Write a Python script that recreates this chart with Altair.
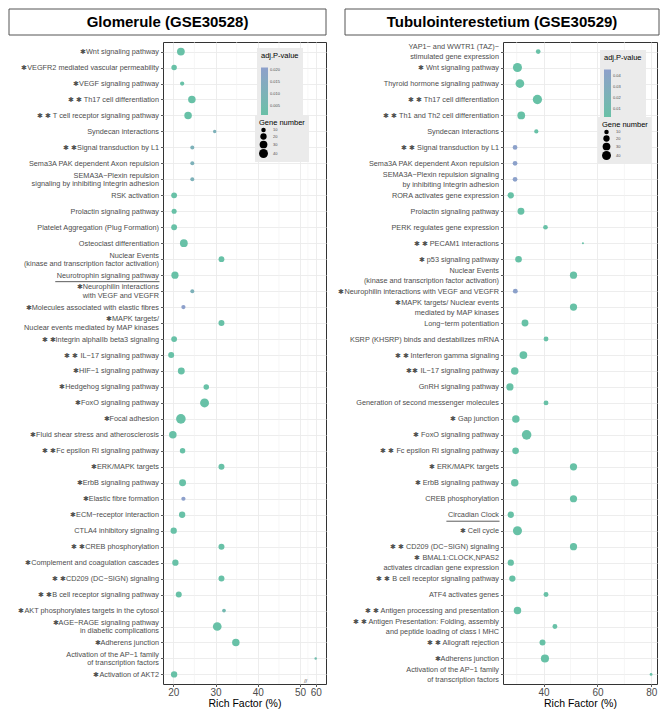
import altair as alt
import pandas as pd

# ---------------- data ----------------
panel_titles = ["Glomerule (GSE30528)", "Tubulointerestetium (GSE30529)"]
x_title = "Rich Factor (%)"

left_terms = [
    "✱Wnt signaling pathway",
    "✱VEGFR2 mediated vascular permeability",
    "✱VEGF signaling pathway",
    "✱ ✱ Th17 cell differentiation",
    "✱ ✱ T cell receptor signaling pathway",
    "Syndecan interactions",
    "✱ ✱Signal transduction by L1",
    "Sema3A PAK dependent Axon repulsion",
    "SEMA3A−Plexin repulsion|signaling by inhibiting Integrin adhesion",
    "RSK activation",
    "Prolactin signaling pathway",
    "Platelet Aggregation (Plug Formation)",
    "Osteoclast differentiation",
    "Nuclear Events|(kinase and transcription factor activation)",
    "Neurotrophin signaling pathway",
    "✱Neurophilin interactions|with VEGF and VEGFR",
    "✱Molecules associated with elastic fibres",
    "✱MAPK targets/|Nuclear events mediated by MAP kinases",
    "✱ ✱Integrin alphaIIb beta3 signaling",
    "✱ ✱ IL−17 signaling pathway",
    "✱HIF−1 signaling pathway",
    "✱Hedgehog signaling pathway",
    "✱FoxO signaling pathway",
    "✱Focal adhesion",
    "✱Fluid shear stress and atherosclerosis",
    "✱ ✱Fc epsilon RI signaling pathway",
    "✱ERK/MAPK targets",
    "✱ErbB signaling pathway",
    "✱Elastic fibre formation",
    "✱ECM−receptor interaction",
    "CTLA4 inhibitory signaling",
    "✱ ✱CREB phosphorylation",
    "✱Complement and coagulation cascades",
    "✱ ✱CD209 (DC−SIGN) signaling",
    "✱ ✱B cell receptor signaling pathway",
    "✱AKT phosphorylates targets in the cytosol",
    "✱AGE−RAGE signaling pathway|in diabetic complications",
    "✱Adherens junction",
    "Activation of the AP−1 family|of transcription factors",
    "✱Activation of AKT2",
]
left_rich = [21.8, 20.2, 22.1, 24.4, 23.5, 29.8, 24.5, 24.5, 24.5, 20.2,
             20.2, 20.2, 22.5, 31.4, 20.4, 24.5, 22.4, 31.4, 20.2, 19.5,
             21.9, 27.8, 27.4, 21.8, 19.9, 22.2, 31.4, 22.2, 22.4, 22.1,
             20.1, 31.4, 20.5, 31.4, 21.3, 32.0, 30.4, 34.8, 60.0, 20.2]
left_genes = [30, 15, 9, 28, 28, 6, 8, 8, 8, 17,
              13, 17, 30, 17, 26, 8, 9, 18, 17, 18,
              24, 15, 40, 46, 28, 15, 18, 24, 9, 20,
              20, 18, 20, 18, 18, 7, 38, 28, 3, 20]
left_padj = [0.001, 0.001, 0.001, 0.001, 0.001, 0.011, 0.011, 0.011, 0.011, 0.001,
             0.001, 0.001, 0.001, 0.001, 0.001, 0.011, 0.021, 0.001, 0.001, 0.001,
             0.001, 0.001, 0.001, 0.001, 0.001, 0.001, 0.001, 0.001, 0.021, 0.001,
             0.001, 0.001, 0.001, 0.001, 0.001, 0.006, 0.001, 0.001, 0.004, 0.001]

right_terms = [
    "YAP1− and WWTR1 (TAZ)−|stimulated gene expression",
    "✱ Wnt signaling pathway",
    "Thyroid hormone signaling pathway",
    "✱ ✱ Th17 cell differentiation",
    "✱ ✱ Th1 and Th2 cell differentiation",
    "Syndecan interactions",
    "✱ ✱ Signal transduction by L1",
    "Sema3A PAK dependent Axon repulsion",
    "SEMA3A−Plexin repulsion signaling|by inhibiting Integrin adhesion",
    "RORA activates gene expression",
    "Prolactin signaling pathway",
    "PERK regulates gene expression",
    "✱ ✱ PECAM1 interactions",
    "✱ p53 signaling pathway",
    "Nuclear Events|(kinase and transcription factor activation)",
    "✱Neurophilin interactions with VEGF and VEGFR",
    "✱MAPK targets/ Nuclear events|mediated by MAP kinases",
    "Long−term potentiation",
    "KSRP (KHSRP) binds and destabilizes mRNA",
    "✱ ✱ Interferon gamma signaling",
    "✱✱ IL−17 signaling pathway",
    "GnRH signaling pathway",
    "Generation of second messenger molecules",
    "✱ Gap junction",
    "✱ FoxO signaling pathway",
    "✱ ✱ Fc epsilon RI signaling pathway",
    "✱ ERK/MAPK targets",
    "✱ ErbB signaling pathway",
    "CREB phosphorylation",
    "Circadian Clock",
    "✱ Cell cycle",
    "✱ ✱ CD209 (DC−SIGN) signaling",
    "✱ BMAL1:CLOCK,NPAS2|activates circadian gene expression",
    "✱ ✱ B cell receptor signaling pathway",
    "ATF4 activates genes",
    "✱ ✱ Antigen processing and presentation",
    "✱ ✱ Antigen Presentation: Folding, assembly|and peptide loading of class I MHC",
    "✱ ✱ Allograft rejection",
    "✱Adherens junction",
    "Activation of the AP−1 family|of transcription factors",
]
right_rich = [38.0, 30.3, 31.2, 37.7, 31.7, 37.3, 29.4, 29.4, 29.4, 27.8,
              31.6, 40.7, 54.6, 30.7, 51.1, 29.5, 51.1, 33.1, 40.9, 32.5,
              29.3, 27.5, 40.9, 29.7, 33.7, 29.6, 51.1, 29.3, 51.1, 27.8,
              30.3, 51.1, 27.8, 28.4, 40.9, 30.3, 44.2, 39.6, 40.5, 79.9]
right_genes = [11, 41, 38, 43, 30, 9, 11, 11, 11, 20,
               24, 11, 2, 22, 26, 12, 26, 24, 12, 30,
               28, 26, 12, 28, 46, 22, 26, 28, 26, 20,
               41, 26, 20, 20, 12, 28, 12, 18, 33, 4]
right_padj = [0.003, 0.002, 0.002, 0.002, 0.002, 0.003, 0.044, 0.044, 0.044, 0.002,
              0.002, 0.003, 0.003, 0.002, 0.002, 0.044, 0.002, 0.002, 0.003, 0.002,
              0.002, 0.002, 0.003, 0.002, 0.002, 0.002, 0.002, 0.002, 0.002, 0.002,
              0.002, 0.002, 0.002, 0.002, 0.003, 0.002, 0.003, 0.002, 0.002, 0.003]

left_underlined = ["Neurotrophin signaling pathway"]
right_underlined = ["Circadian Clock"]
left_right_aligned_blocks = ["✱Neurophilin interactions|with VEGF and VEGFR"]
right_right_aligned_blocks = ["YAP1− and WWTR1 (TAZ)−|stimulated gene expression"]

left_major = [20, 30, 40, 50, 60]
left_minor = [25, 35, 45, 55]
left_break = [53.5]
right_major = [40, 60, 80]
right_minor = [30, 50, 70]
left_pvals = [0.005, 0.010, 0.015, 0.020]
right_pvals = [0.01, 0.02, 0.03, 0.04]
gene_breaks = [10, 20, 30, 40]

# ---------------- styling helpers ----------------
FONT = "Liberation Sans"
LABEL_SIZE = 7.3
TICK = 2.5
LPAD = 2
H = 642
NBSP = "\u00a0"
_W = {' ': 278, NBSP: 278, '(': 333, ')': 333, '-': 333, '−': 584, '.': 278, ',': 278,
      ':': 278, '/': 278, '✱': 838,
      'A': 667, 'B': 667, 'C': 722, 'D': 722, 'E': 667, 'F': 611, 'G': 778, 'H': 722,
      'I': 278, 'J': 500, 'K': 667, 'L': 556, 'M': 833, 'N': 722, 'O': 778, 'P': 667,
      'Q': 778, 'R': 722, 'S': 667, 'T': 611, 'U': 722, 'V': 667, 'W': 944, 'X': 667,
      'Y': 667, 'Z': 611,
      'a': 556, 'b': 556, 'c': 500, 'd': 556, 'e': 556, 'f': 278, 'g': 556, 'h': 556,
      'i': 222, 'j': 222, 'k': 500, 'l': 222, 'm': 833, 'n': 556, 'o': 556, 'p': 556,
      'q': 556, 'r': 333, 's': 500, 't': 278, 'u': 556, 'v': 500, 'w': 722, 'x': 500,
      'y': 500, 'z': 500}


def em_width(s):
    return sum(_W.get(c, 556) for c in s) / 1000.0


def shape(term, right_blocks):
    lines = term.split("|")
    if len(lines) == 1 or term in right_blocks:
        return term
    first = lines[0]
    k = 0
    while k < len(first) and first[k] in "✱ ":
        k += 1
    w1, w2 = em_width(first[k:]), em_width(lines[1])
    n = int(round(abs(w2 - w1) / 0.278))
    if w1 < w2:
        lines[0] = first + NBSP * n
    else:
        lines[1] = lines[1] + NBSP * n
    return "|".join(lines)


def panel(title, terms, rich, genes, padj, right_blocks, underlined, major, minor,
          xdomain, xrange, width, pdom, pvals, pfmt, legx, legy, lineh, box,
          pad_color, pad_size, brk=None):
    disp = [shape(t, right_blocks) for t in terms]
    df = pd.DataFrame({"term": disp, "rich": rich, "genes": genes, "padj": padj})
    yscale = alt.Scale(type="point", domain=disp, padding=0.6)
    xscale = alt.Scale(domain=xdomain, range=xrange, nice=False, zero=False)

    minor_df = pd.DataFrame({"rich": minor})
    minor_rules = alt.Chart(minor_df).mark_rule(color="#F0F0F0", strokeWidth=0.6).encode(
        x=alt.X("rich:Q", scale=xscale, title=x_title,
                axis=alt.Axis(values=major, grid=True, labelOverlap=False, labelFlush=False,
                              format="d")))

    pts = alt.Chart(df).mark_circle(opacity=1).encode(
        x=alt.X("rich:Q", scale=xscale, title=x_title),
        y=alt.Y("term:N", scale=yscale, title=None,
                axis=alt.Axis(labelExpr="split(datum.label, '|')", labelLineHeight=lineh,
                              labelLimit=500, labelOverlap=False,
                              labelOffset={"condition": {"test": "indexof(datum.label, '|') >= 0",
                                                         "value": -lineh / 2},
                                           "value": 0})),
        size=alt.Size("genes:Q", scale=alt.Scale(domain=[0, 50], range=[0, 100], zero=True),
                      legend=alt.Legend(title="Gene number" + NBSP * pad_size, orient="none",
                                        legendX=legx - 2, legendY=legy + 67, values=gene_breaks,
                                        symbolType="circle", symbolFillColor="black",
                                        symbolStrokeWidth=0, symbolOpacity=1,
                                        titlePadding=1)),
        color=alt.Color("padj:Q",
                        scale=alt.Scale(domain=pdom, range=["#66C2A5", "#8DA0CB"],
                                        interpolate="lab"),
                        legend=alt.Legend(title="adj.P-value" + NBSP * pad_color, orient="none",
                                          legendX=legx, legendY=legy, values=pvals,
                                          format=pfmt, gradientLength=50,
                                          gradientThickness=7, direction="vertical",
                                          titlePadding=8)),
    )

    tdf = pd.DataFrame({"t": [title]})
    frame = alt.Chart(tdf).mark_rect(fill="white", stroke="#555555", strokeWidth=1).encode(
        x=alt.value(box[0]), x2=alt.value(box[1]), y=alt.value(-33), y2=alt.value(-7))
    ttext = alt.Chart(tdf).mark_text(fontSize=15, fontWeight="bold", color="black",
                                      font=FONT).encode(
        text="t:N", x=alt.value((box[0] + box[1]) / 2), y=alt.value(-20))

    layers = [frame, ttext, minor_rules, pts]

    for t in underlined:
        d = shape(t, right_blocks)
        w = em_width(t) * LABEL_SIZE
        x0 = -(TICK + LPAD) - w - 1
        x1 = -(TICK + LPAD) + 1
        ul = alt.Chart(pd.DataFrame({"term": [d]})).mark_rule(
            color="#333333", strokeWidth=0.8, yOffset=6.5).encode(
            y=alt.Y("term:N", scale=yscale, title=None),
            x=alt.value(x0), x2=alt.value(x1))
        layers.append(ul)

    if brk is not None:
        bt = alt.Chart(pd.DataFrame({"rich": brk})).mark_text(
            text="//", fontSize=6, color="#555555", dy=-3).encode(
            x=alt.X("rich:Q", scale=xscale, title=x_title), y=alt.value(H))
        layers.append(bt)

    return alt.layer(*layers).properties(
        width=width, height=H,
        view=alt.ViewBackground(stroke="#333333", strokeWidth=1, fill="white"))


left_plot = panel(panel_titles[0], left_terms, left_rich, left_genes, left_padj,
                  left_right_aligned_blocks, left_underlined, left_major, left_minor,
                  [17.57, 50, 60, 66.6], [0, 137.1, 152.7, 163], 163,
                  [0.0002, 0.0212], left_pvals, ".3f", 94, 6, 8.3, (-154, 163),
                  11, 13, brk=left_break)
right_plot = panel(panel_titles[1], right_terms, right_rich, right_genes, right_padj,
                   right_right_aligned_blocks, right_underlined, right_major, right_minor,
                   [24.93, 82.1], [0, 154], 154,
                   [0.001, 0.0455], right_pvals, ".2f", 97, 8, 10, (-158, 156),
                   7, 9)

chart = alt.hconcat(left_plot, right_plot, spacing=10).resolve_scale(
    x="independent", y="independent", color="independent", size="independent"
).properties(padding={"left": 0, "top": 0, "right": 0, "bottom": 0}, background="white"
).configure(font=FONT
).configure_axis(
    labelFont=FONT, titleFont=FONT, labelColor="#4D4D4D", tickColor="#333333",
    tickSize=TICK, tickWidth=0.8, domain=False, gridColor="#EBEBEB", gridWidth=0.9,
    labelPadding=LPAD
).configure_axisY(labelFontSize=LABEL_SIZE, grid=True
).configure_axisX(labelFontSize=10, titleFontSize=10.5, titleColor="black",
                  titleFontWeight="normal", titlePadding=1, labelPadding=1
).configure_legend(
    fillColor="#EBEBEB", padding=4, titleFontSize=7.5, titleFontWeight="normal",
    titleColor="black", labelFontSize=4, labelColor="#4D4D4D", titlePadding=3,
    labelOffset=5, gradientStrokeWidth=0, rowPadding=0.5, titleFont=FONT, labelFont=FONT
)

chart.save("out.html", embed_options={"renderer": "svg", "actions": False})
